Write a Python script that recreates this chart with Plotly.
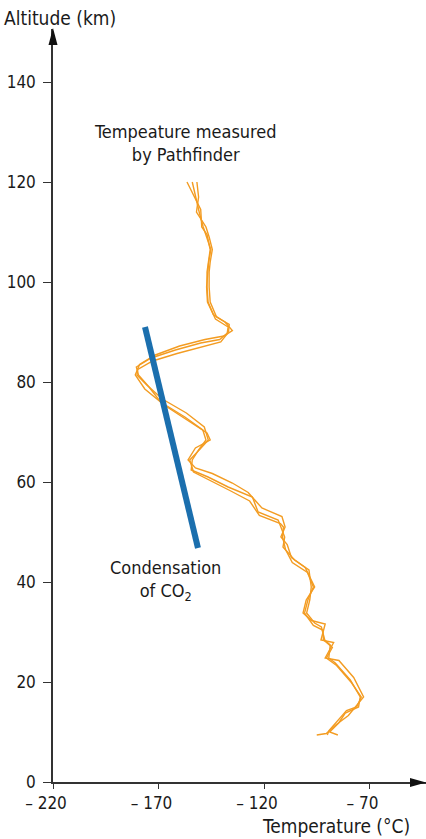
import plotly.graph_objects as go

# Altitude (km) sample points of the three measured strands
altitude = [120, 117, 114, 111, 109, 106.5, 104, 102, 99, 96, 93, 91.5, 90, 88.5, 87.8, 86.4,
            84.8, 83, 81.4, 79, 76, 73, 70.4, 68.4, 66.4, 64.4, 62.4, 61, 59, 57, 54, 52.4,
            51, 49, 47, 44.4, 42.4, 39, 36.4, 33.8, 31.8, 31, 28.4, 27.4, 24.8, 23.8, 20.4,
            17, 15, 13.8, 11.8, 10, 9.4]
alt_a = [120, 117, 114.5, 111, 109.5, 106.5, 104, 102, 99, 96, 93.5, 92, 90.3, 89.2, 88.5, 87.2,
         85.4, 83.5, 81.4, 78.6, 75.3, 72.2, 69.8, 68.4, 66.8, 64.4, 62.8, 61.7, 59.8, 57.9,
         54.8, 53.1, 51, 49, 47.5, 44.9, 42.9, 39, 36.4, 33.8, 32.3, 31.6, 28.4, 27.9, 24.8,
         24.3, 20.9, 17, 15, 13.3, 11.4, 9.7, 9.4]
alt_c = [120, 117, 113.6, 111, 108.6, 106.5, 104, 102, 99, 96, 92.6, 91, 89.6, 88, 87.1, 85.7,
         84.2, 82.5, 81.4, 79.5, 76.6, 73.8, 71, 68.4, 66, 64.4, 62, 60.3, 58.3, 56.2, 53.3,
         51.7, 51, 49, 46.5, 43.9, 41.9, 39, 36.4, 33.8, 31.3, 30.4, 28.4, 26.9, 24.8, 23.3,
         19.9, 17, 15, 14.3, 12.2, 10.3, 9.4]

# Temperatures (°C) of the three Pathfinder strands
temp_a = [-156.5, -153, -150, -149.5, -147, -145.5, -146.5, -147, -147, -146.5, -144, -138.5,
          -135, -139, -148, -160, -171.5, -179, -181, -176.5, -167, -155.5, -147, -145.5,
          -152.5, -156, -152.5, -144.5, -135, -127.5, -121, -111.5, -110, -112, -109, -107,
          -100.5, -96, -100, -101.5, -97.5, -91, -93, -87, -91, -84.5, -77.5, -72.8, -76.5,
          -80, -86, -90.5, -95]
temp_b = [-151.8, -151, -152, -147.5, -146, -144.5, -145.5, -146, -146, -145.5, -142.5, -136.5,
          -136.8, -141, -150, -162, -173.5, -180.5, -179.5, -174.5, -169, -157.5, -149, -147.5,
          -151, -154, -154.5, -146.5, -137, -125.5, -122.8, -113.3, -112, -110.2, -111, -105.5,
          -98.7, -97.6, -98.3, -99.8, -96, -92.8, -91.2, -88.6, -89.3, -86.2, -79.1, -74.4,
          -75.2, -81.5, -84.6, -88.9, -85]
temp_c = [-154, -152.5, -150.5, -148.8, -147, -145.2, -146.2, -146.5, -147.2, -146.8, -143, -137,
          -137.5, -140.5, -149, -161.2, -172.8, -179.8, -180.2, -175.8, -168.2, -156.8, -148.3,
          -146.4, -151.6, -155.2, -153.4, -145.2, -136.2, -126.8, -122.2, -112.2, -110.8,
          -111.2, -109.8, -106.6, -99.4, -96.6, -99.2, -100.8, -96.6, -92.2, -91.8, -87.6,
          -90.4, -85.6, -78.6, -73.9, -76.1, -80.9, -85.2, -89.2, -90]

# CO2 condensation line
co2_temp = [-176.4, -151.3]
co2_alt = [91, 46.8]

x_tickvals = [-220, -170, -120, -70]
x_ticktext = ["\u2013 220", "\u2013 170", "\u2013 120", "\u2013 70"]
y_tickvals = [0, 20, 40, 60, 80, 100, 120, 140]

ORANGE = "#f39c22"
BLUE = "#1b6fae"
TXT = "#1a1a1a"
FONT = "DejaVu Sans Condensed, DejaVu Sans, sans-serif"

fig = go.Figure()
for a, t in ((alt_a, temp_a), (altitude, temp_b), (alt_c, temp_c)):
    fig.add_trace(go.Scatter(x=t, y=a, mode="lines",
                             line=dict(color=ORANGE, width=1.4), hoverinfo="skip"))
fig.add_trace(go.Scatter(x=co2_temp, y=co2_alt, mode="lines",
                         line=dict(color=BLUE, width=6), hoverinfo="skip"))

W, H = 426, 839
ml, mr, mt, mb = 53, 0, 29, 57
pw, ph = W - ml - mr, H - mt - mb

fig.update_layout(
    width=W, height=H, autosize=False,
    margin=dict(l=ml, r=mr, t=mt, b=mb),
    plot_bgcolor="white", paper_bgcolor="white",
    showlegend=False,
    font=dict(family=FONT, size=17, color=TXT),
    xaxis=dict(range=[-220, -220 + pw / 2.11], tickvals=x_tickvals, ticktext=x_ticktext,
               showgrid=False, zeroline=False, showline=True, linecolor="#333", linewidth=1.5,
               ticks="outside", ticklen=5, tickcolor="#333", ticklabelshift=-7,
               tickfont=dict(size=17, family=FONT, color=TXT), automargin=False),
    yaxis=dict(range=[0, ph / 5.0], tickvals=y_tickvals,
               showgrid=False, zeroline=False, showline=True, linecolor="#333", linewidth=1.5,
               ticks="outside", ticklen=8, tickcolor="#333", ticklabelstandoff=4,
               tickfont=dict(size=17, family=FONT, color=TXT), automargin=False),
)

# arrowheads as paper-coordinate triangles
def px_to_paper(px, py):
    return (px - ml) / pw, (H - mb - py) / ph

tx, ty = px_to_paper(53, 28)
l1x, l1y = px_to_paper(48.5, 45)
r1x, r1y = px_to_paper(57.5, 45)
fig.add_shape(type="path", xref="paper", yref="paper",
              path=f"M {tx},{ty} L {l1x},{l1y} L {r1x},{r1y} Z",
              fillcolor="#111", line=dict(color="#111", width=0))
tx, ty = px_to_paper(426, 782.5)
l1x, l1y = px_to_paper(410, 778)
r1x, r1y = px_to_paper(410, 787)
fig.add_shape(type="path", xref="paper", yref="paper",
              path=f"M {tx},{ty} L {l1x},{l1y} L {r1x},{r1y} Z",
              fillcolor="#111", line=dict(color="#111", width=0))

fig.add_annotation(text="Altitude (km)", xref="paper", yref="paper", x=0, y=1,
                   xanchor="left", yanchor="middle", xshift=-51, yshift=11,
                   showarrow=False, font=dict(size=19, family=FONT, color=TXT))
fig.add_annotation(text="Temperature (\u00b0C)", xref="paper", yref="paper", x=1, y=0,
                   xanchor="right", yanchor="middle", xshift=-14, yshift=-44,
                   showarrow=False, font=dict(size=19, family=FONT, color=TXT))
fig.add_annotation(text="Tempeature measured<br>by Pathfinder", x=-157, y=127.8,
                   showarrow=False, align="center",
                   font=dict(size=18, family=FONT, color=TXT))
fig.add_annotation(text="Condensation<br>of CO<sub>2</sub>", x=-166.9, y=40.4,
                   showarrow=False, align="center",
                   font=dict(size=18, family=FONT, color=TXT))

fig.write_html("out.html", config={"displayModeBar": False},
               post_script="document.body.style.margin='0';document.body.style.padding='0';")
